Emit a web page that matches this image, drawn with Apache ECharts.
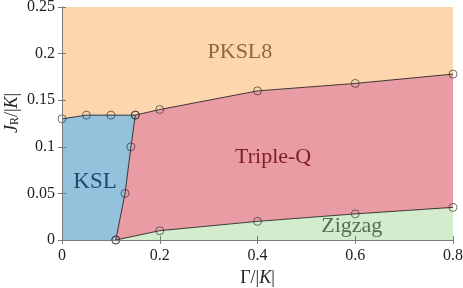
<!DOCTYPE html>
<html><head><meta charset="utf-8">
<script src="https://cdn.jsdelivr.net/npm/echarts@6/dist/echarts.min.js"></script>
<style>html,body{margin:0;padding:0;background:#fff}#c{width:463px;height:288px}</style>
</head><body><div id="c"></div>
<script>
// Phase boundaries (Γ/|K|, J_R/|K|)
const upperX = [0, 0.05, 0.1, 0.15, 0.2, 0.4, 0.6, 0.8];
const upperY = [0.13, 0.134, 0.134, 0.134, 0.14, 0.16, 0.168, 0.178];
const kslX = [0.15, 0.141, 0.129, 0.11];
const kslY = [0.134, 0.1, 0.05, 0];
const zzX = [0.11, 0.2, 0.4, 0.6, 0.8];
const zzY = [0, 0.01, 0.02, 0.028, 0.035];
const xTicks = [0, 0.2, 0.4, 0.6, 0.8];
const yTicks = [0, 0.05, 0.1, 0.15, 0.2, 0.25];
const phaseNames = ['PKSL8', 'Triple-Q', 'KSL', 'Zigzag'];
const phaseLabelPos = [[0.364, 0.202], [0.432, 0.089], [0.0675, 0.062], [0.593, 0.015]];

const X0 = xTicks[0], X1 = xTicks[xTicks.length - 1];
const Y0 = yTicks[0], Y1 = yTicks[yTicks.length - 1];
const zip = (xs, ys) => xs.map((x, i) => [x, ys[i]]);
const upper = zip(upperX, upperY);
const ksl = zip(kslX, kslY);
const zz = zip(zzX, zzY);

const polys = [
  { pts: upper.concat([[X1, Y1], [X0, Y1]]), color: '#FDD6AE' },
  { pts: upper.slice(3).concat(zz.slice().reverse(), ksl.slice(1, ksl.length - 1).reverse()), color: '#E99CA4' },
  { pts: [[X0, Y0]].concat(upper.slice(0, 4), ksl.slice(1)), color: '#94C1DC' },
  { pts: zz.concat([[X1, Y0]]), color: '#D3ECCD' }
];
const labelColors = ['#8E6740', '#7E1C2B', '#1D4B6A', '#536F52'];
const labelSizes = [22, 22, 23, 22];
const serif = 'Liberation Serif';

const lineStyle = { color: '#111', width: 0.8 };
const sym = { symbol: 'circle', symbolSize: 8, itemStyle: { color: 'rgba(0,0,0,0)', borderColor: '#333', borderWidth: 0.7 } };
function bLine(data) {
  return Object.assign({ type: 'line', data: data, lineStyle: lineStyle, z: 5, silent: true, animation: false }, sym);
}

const axisCommon = {
  type: 'value', z: 10,
  axisLine: { show: true, lineStyle: { color: '#7a7a7a', width: 1 } },
  axisTick: { show: true, inside: true, length: 4, lineStyle: { color: '#7a7a7a' } },
  splitLine: { show: false }
};

const chart = echarts.init(document.getElementById('c'), null, { renderer: 'canvas' });
chart.setOption({
  animation: false,
  textStyle: { fontFamily: serif },
  grid: { left: 62, right: 10, top: 7, bottom: 48, containLabel: false, outerBoundsMode: 'none' },
  graphic: [{
    type: 'text', x: 12, y: 113, rotation: Math.PI / 2, silent: true,
    style: {
      text: '{i|J}{s|R}{n|/|}{i|K}{n||}', align: 'center', verticalAlign: 'middle',
      rich: {
        n: { fontFamily: serif, fontSize: 18, fill: '#222' },
        i: { fontFamily: serif, fontSize: 18, fontStyle: 'italic', fill: '#222' },
        s: { fontFamily: serif, fontSize: 12, fill: '#222', verticalAlign: 'bottom' }
      }
    }
  }],
  xAxis: [
    Object.assign({}, axisCommon, {
      min: X0, max: X1, interval: 0.2, position: 'bottom',
      axisLabel: { color: '#222', fontFamily: serif, fontSize: 16, margin: 8, formatter: v => String(+v.toFixed(2)) },
      name: '{n|Γ/|}{i|K}{n||}', nameLocation: 'middle', nameGap: 26,
      nameTextStyle: { rich: { n: { fontFamily: serif, fontSize: 18, color: '#222' }, i: { fontFamily: serif, fontSize: 18, fontStyle: 'italic', color: '#222' } } }
    }),
    Object.assign({}, axisCommon, { min: X0, max: X1, interval: 0.2, position: 'top', axisLabel: { show: false } })
  ],
  yAxis: [
    Object.assign({}, axisCommon, {
      min: Y0, max: Y1, interval: 0.05, position: 'left',
      axisLabel: { color: '#222', fontFamily: serif, fontSize: 16, margin: 7, formatter: v => String(+v.toFixed(2)) }
    }),
    Object.assign({}, axisCommon, { min: Y0, max: Y1, interval: 0.05, position: 'right', axisLabel: { show: false } })
  ],
  series: [
    {
      type: 'custom', z: 1, silent: true,
      data: polys.map((p, i) => [i]),
      renderItem: function (params, api) {
        const p = polys[params.dataIndex];
        return { type: 'polygon', shape: { points: p.pts.map(q => api.coord(q)) }, style: { fill: p.color } };
      }
    },
    bLine(upper),
    bLine(ksl),
    bLine(zz),
    {
      type: 'custom', z: 6, silent: true,
      data: phaseLabelPos.map((p, i) => [p[0], p[1], i]),
      renderItem: function (params, api) {
        const i = params.dataIndex;
        const c = api.coord([api.value(0), api.value(1)]);
        return { type: 'text', x: c[0], y: c[1], style: { text: phaseNames[i], fill: labelColors[i], fontFamily: serif, fontSize: labelSizes[i], align: 'center', verticalAlign: 'middle' } };
      }
    }
  ]
});
</script></body></html>
